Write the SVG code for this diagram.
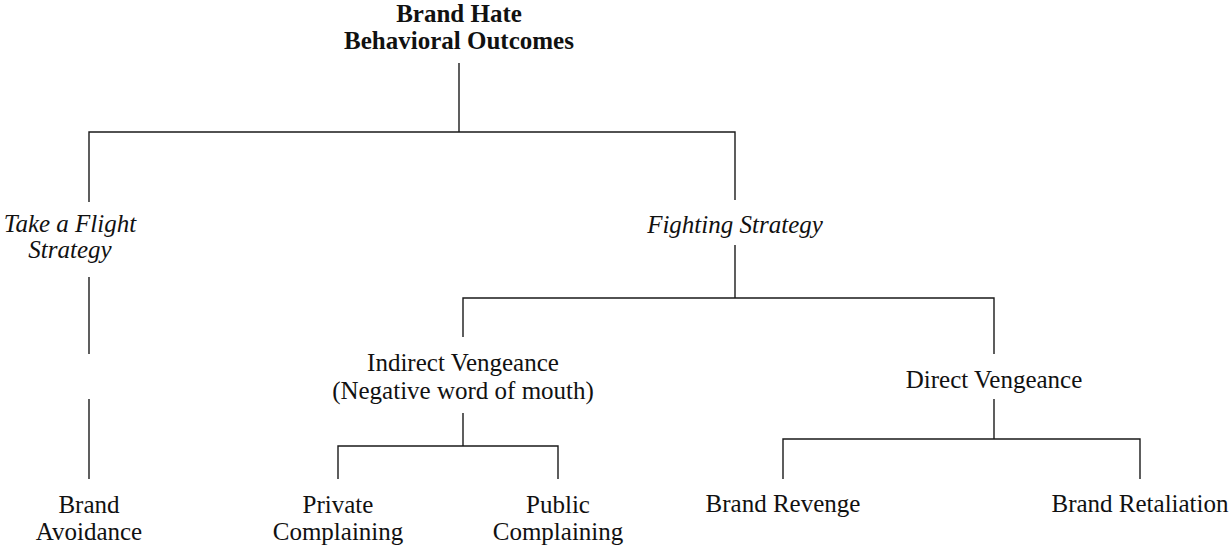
<svg xmlns="http://www.w3.org/2000/svg" width="1232" height="550" viewBox="0 0 1232 550">
  <style>
    text { font-family: "Liberation Serif", "Times New Roman", serif; font-size: 25px; fill: #111; text-anchor: middle; }
    .title { font-weight: bold; }
    .strategy { font-style: italic; }
    .conn { fill: none; stroke: #1a1a1a; stroke-width: 1.4; }
  </style>
  <rect width="1232" height="550" fill="#ffffff"/>

  <!-- tree connectors -->
  <g id="connectors" class="conn">
    <!-- root to strategies -->
    <path d="M459 63 V132"/>
    <path d="M89 202 V132 H735 V200"/>
    <!-- flight strategy to avoidance (split line) -->
    <path d="M89 277 V354"/>
    <path d="M89 399 V479"/>
    <!-- fighting strategy to vengeance types -->
    <path d="M735 245 V298"/>
    <path d="M463 337 V298 H994 V354"/>
    <!-- indirect vengeance to complaining -->
    <path d="M463 413 V446"/>
    <path d="M338 479 V446 H558 V479"/>
    <!-- direct vengeance to revenge / retaliation -->
    <path d="M994 399 V439"/>
    <path d="M783 479 V439 H1140 V479"/>
  </g>

  <g id="root">
    <text class="title" x="459" y="22">Brand Hate</text>
    <text class="title" x="459" y="49">Behavioral Outcomes</text>
  </g>

  <g id="flight-strategy">
    <text class="strategy" x="70" y="232">Take a Flight</text>
    <text class="strategy" x="70" y="258">Strategy</text>
  </g>

  <g id="fighting-strategy">
    <text class="strategy" x="735" y="233">Fighting Strategy</text>
  </g>

  <g id="brand-avoidance">
    <text x="89" y="513">Brand</text>
    <text x="89" y="540">Avoidance</text>
  </g>

  <g id="indirect-vengeance">
    <text x="463" y="371">Indirect Vengeance</text>
    <text x="463" y="399">(Negative word of mouth)</text>
  </g>

  <g id="direct-vengeance">
    <text x="994" y="388">Direct Vengeance</text>
  </g>

  <g id="private-complaining">
    <text x="338" y="513">Private</text>
    <text x="338" y="540">Complaining</text>
  </g>

  <g id="public-complaining">
    <text x="558" y="513">Public</text>
    <text x="558" y="540">Complaining</text>
  </g>

  <g id="brand-revenge">
    <text x="783" y="512">Brand Revenge</text>
  </g>

  <g id="brand-retaliation">
    <text x="1140" y="512">Brand Retaliation</text>
  </g>
</svg>
